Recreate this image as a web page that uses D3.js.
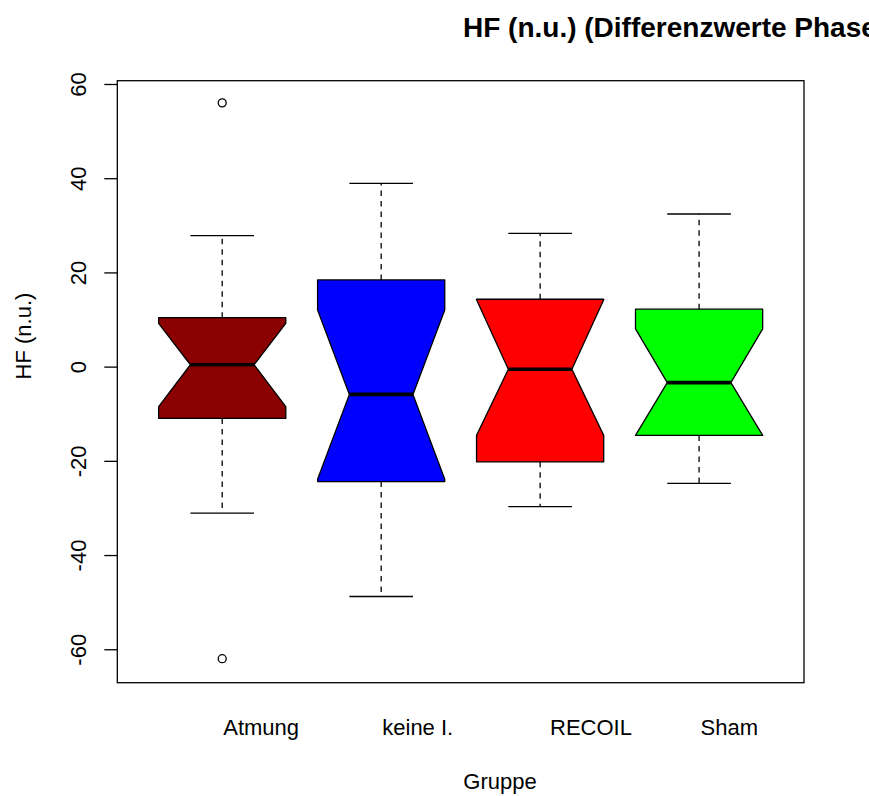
<!DOCTYPE html>
<html>
<head>
<meta charset="utf-8">
<script src="https://cdn.jsdelivr.net/npm/d3@7"></script>
<style>
  body { margin: 0; background: #fff; }
  svg { display: block; font-family: "Liberation Sans", Arial, sans-serif; }
</style>
</head>
<body>
<div id="chart"></div>
<script>
// Data
var groups = ["Atmung", "keine I.", "RECOIL", "Sham"];
var colors = ["#8B0000", "#0000FF", "#FF0000", "#00FF00"];
var whiskerLow = [-31.1, -48.8, -29.7, -24.8];
var q1 = [-11.0, -24.4, -20.2, -14.6];
var notchLow = [-8.5, -23.9, -14.6, -14.6];
var medians = [0.4, -5.9, -0.55, -3.4];
var notchHigh = [9.2, 12.0, 14.2, 8.0];
var q3 = [10.4, 18.4, 14.3, 12.2];
var whiskerHigh = [27.8, 38.9, 28.3, 32.4];
var outliers = [[56.0, -62.0], [], [], []];
var yTicks = [-60, -40, -20, 0, 20, 40, 60];

// Chart size
var svgWidth = 869;
var svgHeight = 796;
var margin = { top: 80.7, right: 65, bottom: 113.3, left: 117.3 };
var width = svgWidth - margin.left - margin.right;
var height = svgHeight - margin.top - margin.bottom;

var svg = d3.select("#chart").append("svg").attr("width", svgWidth).attr("height", svgHeight);
var chartGroup = svg.append("g").attr("transform", `translate(${margin.left}, ${margin.top})`);

var xScale = d3.scaleLinear().domain([0.34, 4.66]).range([0, width]);
var yScale = d3.scaleLinear().domain([-67.1, 60.7]).range([height, 0]);

var boxes = groups.map((g, i) => ({
  name: g, color: colors[i], pos: i + 1,
  lo: whiskerLow[i], q1: q1[i], nlo: notchLow[i], med: medians[i],
  nhi: notchHigh[i], q3: q3[i], hi: whiskerHigh[i], out: outliers[i]
}));

var halfW = xScale(1.4) - xScale(1);
// group labels sit a bit right of the boxes in the original
var labelShift = [0.245, 0.23, 0.32, 0.19];

var boxG = chartGroup.selectAll(".box").data(boxes).enter().append("g").attr("class", "box");

// whiskers
boxG.append("line")
  .attr("x1", d => xScale(d.pos)).attr("x2", d => xScale(d.pos))
  .attr("y1", d => yScale(d.q3)).attr("y2", d => yScale(d.hi))
  .attr("stroke", "#000").attr("stroke-width", 1.3).attr("stroke-dasharray", "5.5,5");
boxG.append("line")
  .attr("x1", d => xScale(d.pos)).attr("x2", d => xScale(d.pos))
  .attr("y1", d => yScale(d.q1)).attr("y2", d => yScale(d.lo))
  .attr("stroke", "#000").attr("stroke-width", 1.3).attr("stroke-dasharray", "5.5,5");

// staples
boxG.append("line")
  .attr("x1", d => xScale(d.pos) - halfW / 2).attr("x2", d => xScale(d.pos) + halfW / 2)
  .attr("y1", d => yScale(d.hi)).attr("y2", d => yScale(d.hi))
  .attr("stroke", "#000").attr("stroke-width", 1.3);
boxG.append("line")
  .attr("x1", d => xScale(d.pos) - halfW / 2).attr("x2", d => xScale(d.pos) + halfW / 2)
  .attr("y1", d => yScale(d.lo)).attr("y2", d => yScale(d.lo))
  .attr("stroke", "#000").attr("stroke-width", 1.3);

// notched box
notchPath = d => {
  var x = xScale(d.pos);
  var pts = [
    [x - halfW, yScale(d.q1)], [x - halfW, yScale(d.nlo)], [x - halfW / 2, yScale(d.med)],
    [x - halfW, yScale(d.nhi)], [x - halfW, yScale(d.q3)], [x + halfW, yScale(d.q3)],
    [x + halfW, yScale(d.nhi)], [x + halfW / 2, yScale(d.med)], [x + halfW, yScale(d.nlo)],
    [x + halfW, yScale(d.q1)]
  ];
  return "M" + pts.map(p => p.join(",")).join("L") + "Z";
}
boxG.append("path")
  .attr("d", notchPath)
  .attr("fill", d => d.color)
  .attr("stroke", "#000").attr("stroke-width", 1.3).attr("stroke-linejoin", "round");

// median
boxG.append("line")
  .attr("x1", d => xScale(d.pos) - halfW / 2).attr("x2", d => xScale(d.pos) + halfW / 2)
  .attr("y1", d => yScale(d.med)).attr("y2", d => yScale(d.med))
  .attr("stroke", "#000").attr("stroke-width", 3.6);

// outliers
boxG.selectAll("circle").data(d => d.out.map(v => ({ pos: d.pos, v: v }))).enter().append("circle")
  .attr("cx", d => xScale(d.pos)).attr("cy", d => yScale(d.v)).attr("r", 4)
  .attr("fill", "none").attr("stroke", "#000").attr("stroke-width", 1.3);

// frame
chartGroup.append("rect").attr("width", width).attr("height", height)
  .attr("fill", "none").attr("stroke", "#000").attr("stroke-width", 1.3);

// y axis
var leftAxis = d3.axisLeft(yScale).tickValues(yTicks).tickSize(13).tickFormat(d => String(d));
var yAxis = chartGroup.append("g").call(leftAxis);
yAxis.select(".domain").remove();
yAxis.selectAll("line").attr("stroke", "#000").attr("stroke-width", 1.3);
yAxis.selectAll("text")
  .attr("transform", "rotate(-90)")
  .attr("x", 0).attr("y", -31.3).attr("dy", null)
  .style("text-anchor", "middle")
  .style("font-size", "22px").attr("fill", "#000")
  .style("font-family", "'Liberation Sans', Arial, sans-serif");

// x labels
chartGroup.selectAll(".xlab").data(boxes).enter().append("text")
  .attr("class", "xlab")
  .attr("x", (d, i) => xScale(d.pos + labelShift[i])).attr("y", height + 52)
  .style("text-anchor", "middle").style("font-size", "22px")
  .text(d => d.name);

// axis titles
svg.append("text").attr("x", 500).attr("y", 789)
  .style("text-anchor", "middle").style("font-size", "22px").text("Gruppe");
svg.append("text").attr("transform", "translate(31, 336) rotate(-90)")
  .style("text-anchor", "middle").style("font-size", "22px").text("HF (n.u.)");

// title (cut by the right edge)
svg.append("text").attr("x", 463).attr("y", 37)
  .style("font-size", "28px").style("font-weight", "bold")
  .text("HF (n.u.) (Differenzwerte Phase");
</script>
</body>
</html>
